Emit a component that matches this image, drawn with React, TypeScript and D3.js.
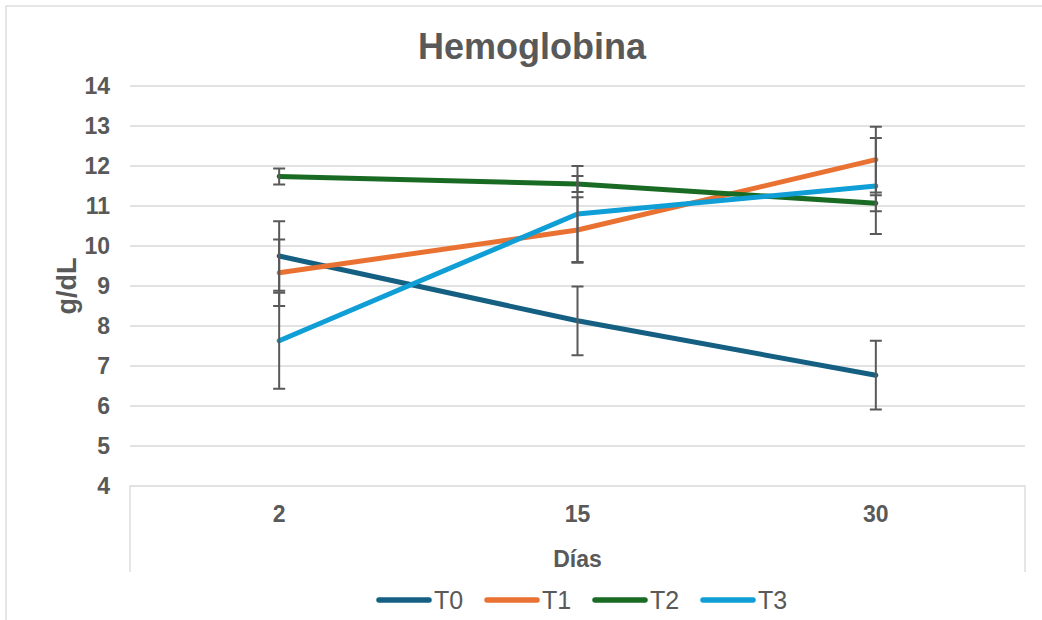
import * as d3 from "d3";
import { useEffect, useRef } from "react";

const DAYS = ["2", "15", "30"];
const SERIES_NAMES = ["T0", "T1", "T2", "T3"];
const SERIES_COLORS = ["#156082", "#E97132", "#196B24", "#0F9ED5"];
const T0_VALUES = [9.75, 8.13, 6.77];
const T1_VALUES = [9.33, 10.4, 12.16];
const T2_VALUES = [11.74, 11.55, 11.07];
const T3_VALUES = [7.63, 10.8, 11.5];
const T0_ERRORS = [0.87, 0.86, 0.86];
const T1_ERRORS = [0.83, 0.82, 0.82];
const T2_ERRORS = [0.2, 0.2, 0.2];
const T3_ERRORS = [1.2, 1.2, 1.2];
const Y_TICKS = [4, 5, 6, 7, 8, 9, 10, 11, 12, 13, 14];

const WIDTH = 1042;
const HEIGHT = 620;
const FONT = "'Liberation Sans', Arial, sans-serif";
const TEXT_COLOR = "#595959";
const GRID_COLOR = "#d9d9d9";

type Series = { name: string; color: string; values: number[]; errors: number[] };

const buildSeries = (): Series[] => {
  const values = [T0_VALUES, T1_VALUES, T2_VALUES, T3_VALUES];
  const errors = [T0_ERRORS, T1_ERRORS, T2_ERRORS, T3_ERRORS];
  return SERIES_NAMES.map((name, i) => ({
    name,
    color: SERIES_COLORS[i],
    values: values[i],
    errors: errors[i],
  }));
};

const drawChart = (svgElement: SVGSVGElement) => {
  const svg = d3.select(svgElement);
  svg.selectAll("*").remove();
  svg.attr("width", WIDTH).attr("height", HEIGHT);

  const plot = { left: 130, right: 1025, top: 86, bottom: 486 };
  const series = buildSeries();

  const xScale = d3.scaleBand<string>().domain(DAYS).range([plot.left, plot.right]).padding(0);
  const yScale = d3.scaleLinear().domain([4, 14]).range([plot.bottom, plot.top]);
  const xCenter = (day: string) => (xScale(day) ?? 0) + xScale.bandwidth() / 2;

  svg.append("rect").attr("width", WIDTH).attr("height", HEIGHT).attr("fill", "white");

  // chart border
  svg
    .append("rect")
    .attr("x", 6)
    .attr("y", 6)
    .attr("width", WIDTH)
    .attr("height", HEIGHT)
    .attr("fill", "none")
    .attr("stroke", GRID_COLOR)
    .attr("stroke-width", 1.3);

  svg
    .append("text")
    .attr("x", 532)
    .attr("y", 59)
    .attr("text-anchor", "middle")
    .style("font-family", FONT)
    .style("font-size", "36px")
    .style("font-weight", "bold")
    .attr("fill", TEXT_COLOR)
    .text("Hemoglobina");

  // gridlines
  svg
    .append("g")
    .selectAll("line")
    .data(Y_TICKS.slice(1))
    .join("line")
    .attr("x1", plot.left)
    .attr("x2", plot.right)
    .attr("y1", (d) => yScale(d))
    .attr("y2", (d) => yScale(d))
    .attr("stroke", GRID_COLOR)
    .attr("stroke-width", 1.3);

  const yAxis = svg
    .append("g")
    .attr("transform", `translate(${plot.left},0)`)
    .call(d3.axisLeft(yScale).tickValues(Y_TICKS).tickSize(0).tickPadding(20));
  yAxis.select(".domain").remove();
  yAxis
    .selectAll("text")
    .style("font-family", FONT)
    .style("font-size", "23px")
    .style("font-weight", "bold")
    .attr("fill", TEXT_COLOR);

  // category axis box
  const boxBottom = 572;
  svg
    .append("path")
    .attr("d", `M${plot.left},${boxBottom}V${plot.bottom}H${plot.right}V${boxBottom}`)
    .attr("fill", "none")
    .attr("stroke", GRID_COLOR)
    .attr("stroke-width", 1.3);

  const xAxis = svg
    .append("g")
    .attr("transform", `translate(0,${plot.bottom})`)
    .call(d3.axisBottom(xScale).tickSize(0).tickPadding(20));
  xAxis.select(".domain").remove();
  xAxis
    .selectAll("text")
    .style("font-family", FONT)
    .style("font-size", "23px")
    .style("font-weight", "bold")
    .attr("fill", TEXT_COLOR);

  svg
    .append("text")
    .attr("x", (plot.left + plot.right) / 2)
    .attr("y", 567)
    .attr("text-anchor", "middle")
    .style("font-family", FONT)
    .style("font-size", "23px")
    .style("font-weight", "bold")
    .attr("fill", TEXT_COLOR)
    .text("Días");

  svg
    .append("text")
    .attr("transform", `translate(76,${(plot.top + plot.bottom) / 2}) rotate(-90)`)
    .attr("text-anchor", "middle")
    .style("font-family", FONT)
    .style("font-size", "27px")
    .style("font-weight", "bold")
    .attr("fill", TEXT_COLOR)
    .text("g/dL");

  const line = d3
    .line<number>()
    .x((_, i) => xCenter(DAYS[i]))
    .y((d) => yScale(d));

  svg
    .append("g")
    .selectAll("path")
    .data(series)
    .join("path")
    .attr("d", (s) => line(s.values))
    .attr("fill", "none")
    .attr("stroke", (s) => s.color)
    .attr("stroke-width", 5)
    .attr("stroke-linecap", "round")
    .attr("stroke-linejoin", "round");

  // error bars
  const errorData = series.flatMap((s) =>
    s.values.map((v, i) => ({ x: xCenter(DAYS[i]), lo: v - s.errors[i], hi: v + s.errors[i] }))
  );
  const capHalf = 6;
  svg
    .append("g")
    .selectAll("path")
    .data(errorData)
    .join("path")
    .attr(
      "d",
      (e) =>
        `M${e.x},${yScale(e.lo)}V${yScale(e.hi)}` +
        `M${e.x - capHalf},${yScale(e.lo)}H${e.x + capHalf}` +
        `M${e.x - capHalf},${yScale(e.hi)}H${e.x + capHalf}`
    )
    .attr("fill", "none")
    .attr("stroke", "#595959")
    .attr("stroke-width", 2);

  // legend
  const legend = svg.append("g").attr("transform", "translate(377,600)");
  const item = legend
    .selectAll("g")
    .data(series)
    .join("g")
    .attr("transform", (_, i) => `translate(${i * 108},0)`);
  item
    .append("line")
    .attr("x1", 2)
    .attr("x2", 52)
    .attr("stroke", (s) => s.color)
    .attr("stroke-width", 5.5)
    .attr("stroke-linecap", "round");
  item
    .append("text")
    .attr("x", 57)
    .attr("y", 9)
    .style("font-family", FONT)
    .style("font-size", "25px")
    .attr("fill", TEXT_COLOR)
    .text((s) => s.name);
};

const App = () => {
  const svgRef = useRef<SVGSVGElement | null>(null);

  useEffect(() => {
    if (svgRef.current) drawChart(svgRef.current);
  }, []);

  return (
    <div style={{ position: "absolute", left: 0, top: 0, width: WIDTH, height: HEIGHT }}>
      <svg ref={svgRef} style={{ display: "block" }} />
    </div>
  );
};

export default App;
